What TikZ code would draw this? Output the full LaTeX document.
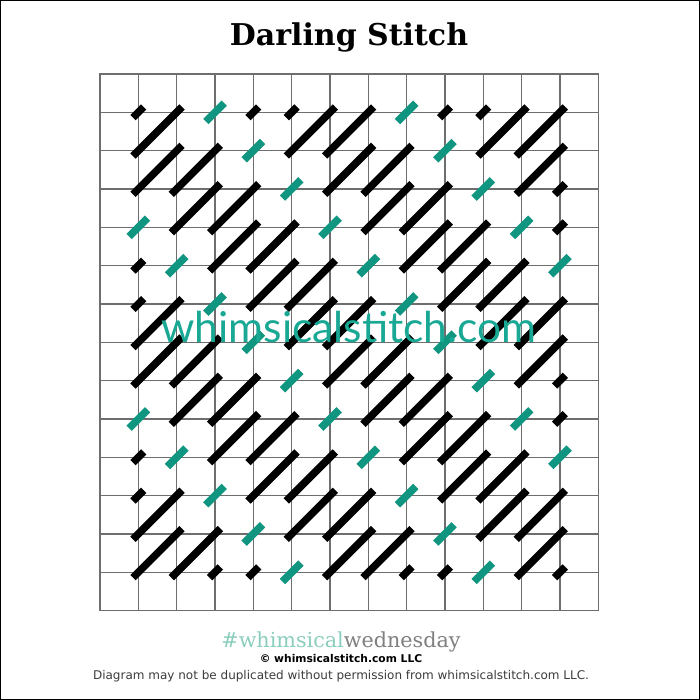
\documentclass[tikz,border=0pt]{standalone}
\usepackage{fontspec}
\setmainfont{DejaVu Serif}
\setsansfont{DejaVu Sans}
\newfontfamily\markfont{Lato}

\definecolor{stitchteal}{RGB}{16,150,128}
\definecolor{markteal}{RGB}{24,168,148}
\definecolor{tagteal}{RGB}{140,206,190}
\definecolor{taggray}{RGB}{128,128,128}
\definecolor{gridgray}{RGB}{110,110,110}
\definecolor{notegray}{RGB}{60,60,60}

\tikzset{
  gridline/.style={draw=gridgray,line width=1.4pt,line cap=rect},
  blackstitch/.style={draw=black,line width=7.5pt},
  tealstitch/.style={draw=stitchteal,line width=7.5pt},
}

\begin{document}
\begin{tikzpicture}[x=1pt,y=-1pt]
  \useasboundingbox (0,0) rectangle (700,700);
  \fill[white] (0,0) rectangle (700,700);
  \draw[line width=2.5pt] (0,0) rectangle (700,700);

  \node[anchor=base,font=\fontsize{30}{33}\selectfont\bfseries] (title) at (349,46) {Darling Stitch};

  % canvas: 13 x 14 squares, stitches cross the thread intersections
  \begin{scope}[shift={(100,74)},x=38.33pt,y=-38.33pt]
    \foreach \c in {0,...,13} \draw[gridline] (\c,0) -- (\c,14);
    \foreach \r in {0,...,14} \draw[gridline] (0,\r) -- (13,\r);

    \foreach \i in {1,...,12} {
      \foreach \j in {1,...,13} {
        \pgfmathtruncatemacro\k{mod(\i-\j+15,5)}
        % 0 none, 1 short, 2 long, 3 teal
        \pgfmathtruncatemacro\kind{\k==2 ? 3 : (\k<2 ? ((\i>1 && \j<13) ? 2 : 1) : ((\i<12 && \j>1) ? 0 : 1))}
        \ifcase\kind
        \or \draw[blackstitch] (\i-0.14,\j+0.14) -- (\i+0.14,\j-0.14);
        \or \draw[blackstitch] (\i-1.14,\j+1.14) -- (\i+0.14,\j-0.14);
        \or \draw[tealstitch] (\i-0.24,\j+0.24) -- (\i+0.24,\j-0.24);
        \fi
      }
    }
  \end{scope}

  \node[anchor=base,text=markteal,font=\markfont\fontsize{42.5}{44}\selectfont] (mark) at (349,342) {whimsicalstitch.com};

  \node[anchor=base,font=\fontsize{20.7}{23}\selectfont] (tag) at (341,647)
    {\textcolor{tagteal}{\#whimsical}\textcolor{taggray}{wednesday}};
  \node[anchor=base,font=\sffamily\bfseries\fontsize{10.7}{13}\selectfont] (copy) at (341,662)
    {© whimsicalstitch.com LLC};
  \node[anchor=base,text=notegray,font=\sffamily\fontsize{12}{14}\selectfont] (note) at (341,679)
    {Diagram may not be duplicated without permission from whimsicalstitch.com LLC.};
\end{tikzpicture}
\end{document}
